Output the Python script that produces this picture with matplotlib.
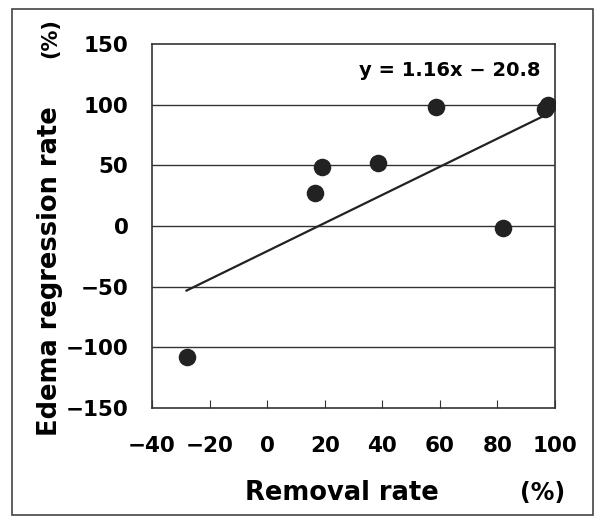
import matplotlib.pyplot as plt
from matplotlib.patches import Rectangle

# removal rate (%) vs edema regression rate (%)
removal = [-28, 16.5, 19, 38.5, 58.5, 82, 96.5, 97.5]
regression = [-108, 27, 49, 52, 98, -2, 96, 100]
slope, intercept = 1.16, -20.8
y_ticks = [-150, -100, -50, 0, 50, 100, 150]
x_ticks = [-40, -20, 0, 20, 40, 60, 80, 100]

plt.rcParams['font.family'] = ['DejaVu Sans']
plt.rcParams['font.weight'] = 'bold'

fig = plt.figure(figsize=(5.97, 5.18), dpi=100)
ax = fig.add_axes([0.2546, 0.2125, 0.675, 0.7026])

for yv in y_ticks[1:-1]:
    ax.axhline(yv, color='#333333', lw=1.0, zorder=1)

xs = [min(removal), max(removal)]
ax.plot(xs, [slope * v + intercept for v in xs], color='#222222', lw=1.6, zorder=2)
ax.scatter(removal, regression, s=135, color='#222222', zorder=3)

ax.set_xlim(-40, 100)
ax.set_ylim(-150, 150)
ax.set_xticks(x_ticks)
ax.set_yticks(y_ticks)
ax.set_xticklabels([str(t).replace('-', '\u2212') for t in x_ticks], fontsize=15.5, fontweight='bold')
ax.set_yticklabels([str(t).replace('-', '\u2212') for t in y_ticks], fontsize=15.5, fontweight='bold')
ax.tick_params(axis='x', direction='in', length=6, pad=20, color='#333333')
ax.tick_params(axis='y', length=0, pad=17)
for s in ax.spines.values():
    s.set_color('#333333')
    s.set_linewidth(1.2)

ax.text(95, 128, 'y = 1.16x \u2212 20.8', ha='right', va='center', fontsize=14, fontweight='bold')

fig.text(0.084, 0.477, 'Edema regression rate', rotation=90, ha='center', va='center',
         fontsize=18.5, fontweight='bold')
fig.text(0.084, 0.927, '(%)', rotation=90, ha='center', va='center', fontsize=15, fontweight='bold')
fig.text(0.573, 0.048, 'Removal rate', ha='center', va='center', fontsize=18.5, fontweight='bold')
fig.text(0.908, 0.048, '(%)', ha='center', va='center', fontsize=17, fontweight='bold')

fig.add_artist(Rectangle((0.02, 0.005), 0.973, 0.978, transform=fig.transFigure,
                         fill=False, edgecolor='#444444', lw=1.2))

fig.savefig('out.png', dpi=100)
